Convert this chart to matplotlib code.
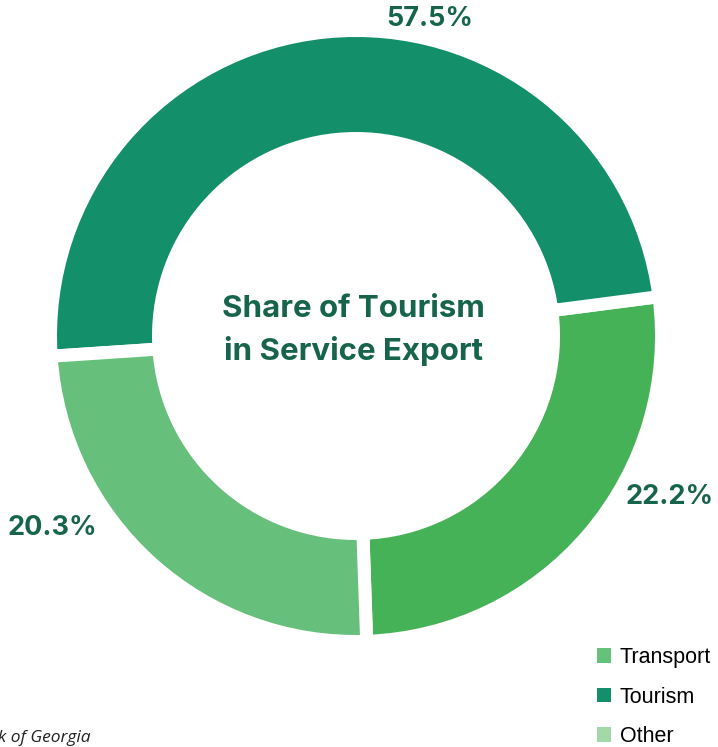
import matplotlib.pyplot as plt
from matplotlib.patches import Patch

# ---- data ----
categories = ["Transport", "Tourism", "Other"]
label_text = ["22.2%", "57.5%", "20.3%"]          # printed percentages
arc_share = [26.5, 49.0, 24.5]                     # share of the ring as drawn
wedge_colors = ["#46b257", "#138f6a", "#66bf7a"]
legend_colors = ["#66c17a", "#138f6a", "#a3d8a8"]

W, H = 718, 747
text_green = "#17644c"

fig = plt.figure(figsize=(W / 100, H / 100), dpi=100)
ax = fig.add_axes([0, 0, 1, 1])

# ring, measured in pixels (y from bottom)
cx, cy = 356, H - 336
gap = 13
R = 299 + gap / 2
ring_w = 95 + gap

ax.pie(arc_share, colors=wedge_colors, startangle=-88.0, counterclock=True,
       center=(cx, cy), radius=R,
       wedgeprops=dict(width=ring_w, edgecolor="white", linewidth=gap * 72 / 100))

ax.set_xlim(0, W)
ax.set_ylim(0, H)
ax.set_aspect("auto")
ax.axis("off")

# percentage labels
label_pos = [(670, 497), (430, 19), (52, 528)]
for txt, (x, y) in zip(label_text, label_pos):
    ax.text(x, H - y, txt, ha="center", va="center", fontsize=19.5,
            fontweight="bold", color=text_green, family="Inter")

# centre title
ax.text(cx - 3, H - 309, "Share of Tourism", ha="center", va="center",
        fontsize=22.5, fontweight="bold", color=text_green, family="Inter")
ax.text(cx - 3, H - 351, "in Service Export", ha="center", va="center",
        fontsize=22.5, fontweight="bold", color=text_green, family="Inter")

# legend
handles = [Patch(facecolor=c, edgecolor="none") for c in legend_colors]
fig.legend(handles, categories, loc="upper left",
           bbox_to_anchor=(597 / W, 1 - 647 / H), frameon=False,
           prop={"family": "Liberation Sans", "size": 15.5},
           handlelength=0.65, handleheight=0.65, handletextpad=0.4,
           labelspacing=0.86, borderaxespad=0, borderpad=0)

# source note, clipped at the left edge as in the reference
ax.text(91, H - 738, "Source: National Bank of Georgia", ha="right", va="center",
        fontsize=12.5, style="italic", color="#222222", family="Open Sans")

fig.savefig("out.png", dpi=100)
